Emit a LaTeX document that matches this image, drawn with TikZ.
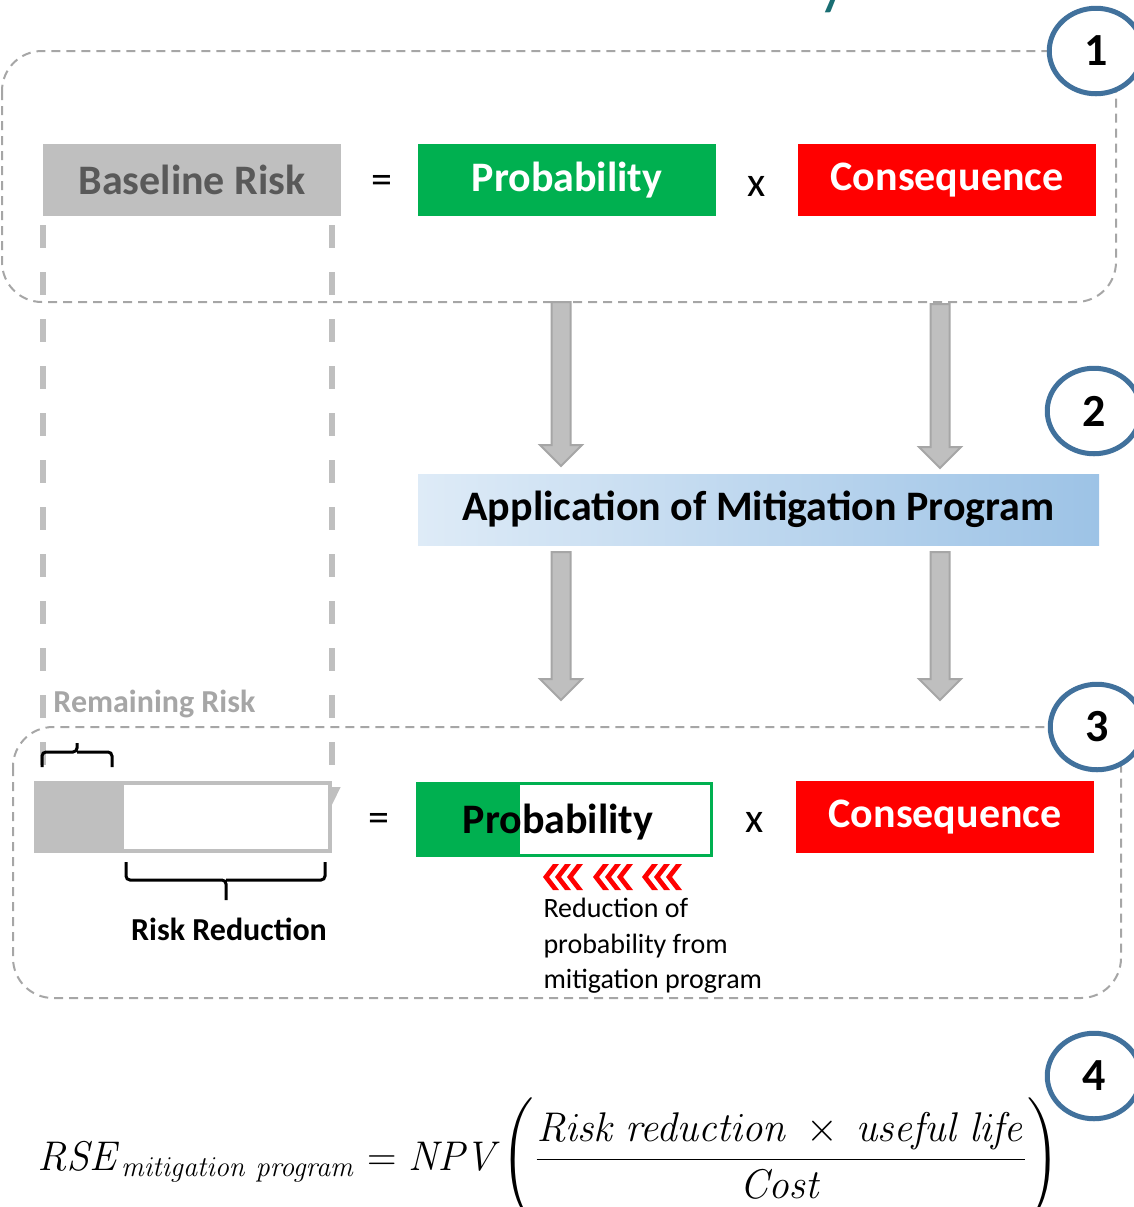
\documentclass[tikz,border=0pt]{standalone}
\usepackage[no-math]{fontspec}
\setmainfont{Carlito}
\usepackage{amsmath}
\usetikzlibrary{arrows.meta,shapes.geometric}
\definecolor{riskgreen}{HTML}{00B050}
\definecolor{riskred}{HTML}{FF0000}
\definecolor{boxgray}{HTML}{BFBFBF}
\definecolor{linegray}{HTML}{A6A6A6}
\definecolor{textgray}{HTML}{595959}
\definecolor{stepblue}{HTML}{41719C}
\definecolor{appleft}{HTML}{DEEBF7}
\definecolor{appright}{HTML}{9DC3E6}
\definecolor{titleteal}{HTML}{1A6E73}

\begin{document}
\begin{tikzpicture}[x=.5pt,y=-.5pt,line width=.5pt,
  termbox/.style={minimum width=149pt,minimum height=36pt,inner sep=0pt,font=\fontsize{21}{25}\selectfont\bfseries},
  opsign/.style={inner sep=0pt,font=\fontsize{21}{25}\selectfont},
  stepmark/.style={ellipse,draw=stepblue,line width=2.5pt,fill=white,minimum width=46.75pt,minimum height=42.75pt,inner sep=0pt,font=\fontsize{23}{27}\selectfont\bfseries},
  stagebox/.style={draw=linegray,line width=1pt,dash pattern=on 4.5pt off 3pt,rounded corners=20pt},
  blockarrow/.style={fill=boxgray,draw=linegray,line width=1pt},
  riskdash/.style={draw=boxgray,line width=3pt,dash pattern=on 11.5pt off 12pt,-{Triangle[width=8pt,length=9pt]}},
  bracket/.style={line width=1.5pt,rounded corners=2pt}]
\path[use as bounding box] (0,0) rectangle (1134,1207);
\node[anchor=base west,inner sep=0pt,text=titleteal,font=\fontsize{32}{36}\selectfont] (titley) at (818,2) {y};
\draw[stagebox] (2,51) rectangle (1116,302);
\draw[stagebox] (13,727) rectangle (1121,998);
\node[termbox,fill=boxgray,text=textgray] (base) at (192,180) {Baseline Risk};
\node[opsign] (eq1) at (382,184) {=};
\node[termbox,fill=riskgreen,text=white] (prob1) at (567,180) {Probability};
\node[opsign] (times1) at (757,186) {x};
\node[termbox,fill=riskred,text=white] (cons1) at (947,180) {Consequence};
\draw[riskdash] (43,225) -- (43,805);
\draw[riskdash] (332,225) -- (332,805);
\draw[blockarrow] (551.5,302) -- ++(19,0) -- ++(0,143) -- ++(11.5,0) -- ++(-21,21) -- ++(-21,-21) -- ++(11.5,0) -- cycle;
\draw[blockarrow] (930.5,304) -- ++(19,0) -- ++(0,143) -- ++(11.5,0) -- ++(-21,21) -- ++(-21,-21) -- ++(11.5,0) -- cycle;
\node[minimum width=340.5pt,minimum height=35.5pt,inner sep=0pt,left color=appleft,right color=appright,font=\fontsize{21}{25}\selectfont\bfseries] (app) at (758.5,509.5) {Application of Mitigation Program};
\draw[blockarrow] (551.5,552) -- ++(19,0) -- ++(0,127) -- ++(11.5,0) -- ++(-21,21) -- ++(-21,-21) -- ++(11.5,0) -- cycle;
\draw[blockarrow] (930.5,552) -- ++(19,0) -- ++(0,127) -- ++(11.5,0) -- ++(-21,21) -- ++(-21,-21) -- ++(11.5,0) -- cycle;
\node[fill=boxgray,minimum width=44pt,minimum height=36pt,inner sep=0pt] (remain) at (78,817) {};
\node[draw=boxgray,fill=white,line width=2pt,minimum width=104pt,minimum height=34pt,inner sep=0pt] (cut) at (226,817) {};
\node[anchor=west,inner sep=0pt,text=linegray,font=\fontsize{16}{19}\selectfont\bfseries] (remaintxt) at (53,704) {Remaining Risk};
\draw[bracket] (42,767) |- (77,752) -- (77,743) (77,752) -| (112,767);
\draw[bracket] (126,862) |- (226,880) -- (226,900) (226,880) -| (325,862);
\node[inner sep=0pt,font=\fontsize{16}{19}\selectfont\bfseries] (cuttxt) at (229,929) {Risk Reduction};
\node[opsign] (eq2) at (379,822) {=};
\node[draw=riskgreen,line width=1.5pt,fill=white,minimum width=147pt,minimum height=36pt,inner sep=0pt,
  path picture={\fill[riskgreen] (path picture bounding box.south west) rectangle ([xshift=51pt]path picture bounding box.north west);}] (prob2) at (564.5,819.5) {};
\node[inner sep=0pt,font=\fontsize{21}{25}\selectfont\bfseries] (prob2txt) at (558,822) {Probability};
\node[opsign] (times2) at (755,822) {x};
\node[termbox,fill=riskred,text=white] (cons2) at (945,817) {Consequence};
\foreach \g in {543,593,642}
  \foreach \k in {0,12,24}
    \fill[riskred] (\g+\k,877) -- ++(10,-13) -- ++(6,0) -- ++(-10,13) -- ++(10,13) -- ++(-6,0) -- cycle;
\node[anchor=north west,inner sep=0pt,align=left,font=\fontsize{14}{17.75}\selectfont] (note) at (543,898) {Reduction of\\probability from\\mitigation program};
\node[stepmark] (s1) at (1096,51) {1};
\node[stepmark] (s2) at (1094,411) {2};
\node[stepmark] (s3) at (1097,727) {3};
\node[stepmark] (s4) at (1094,1076) {4};
\node[anchor=base west,inner sep=0pt,font=\fontsize{20}{24}\selectfont] (rse) at (37,1170) {\scalebox{.985}[1]{$\mathit{RSE}_{\mathit{mitigation\ program}}=\mathit{NPV}\!\left(\rule[-27pt]{0pt}{64pt}\dfrac{\mathit{Risk\ reduction}\ \times\ \mathit{useful\ life}}{\mathit{Cost}}\right)$}};
\end{tikzpicture}
\end{document}
